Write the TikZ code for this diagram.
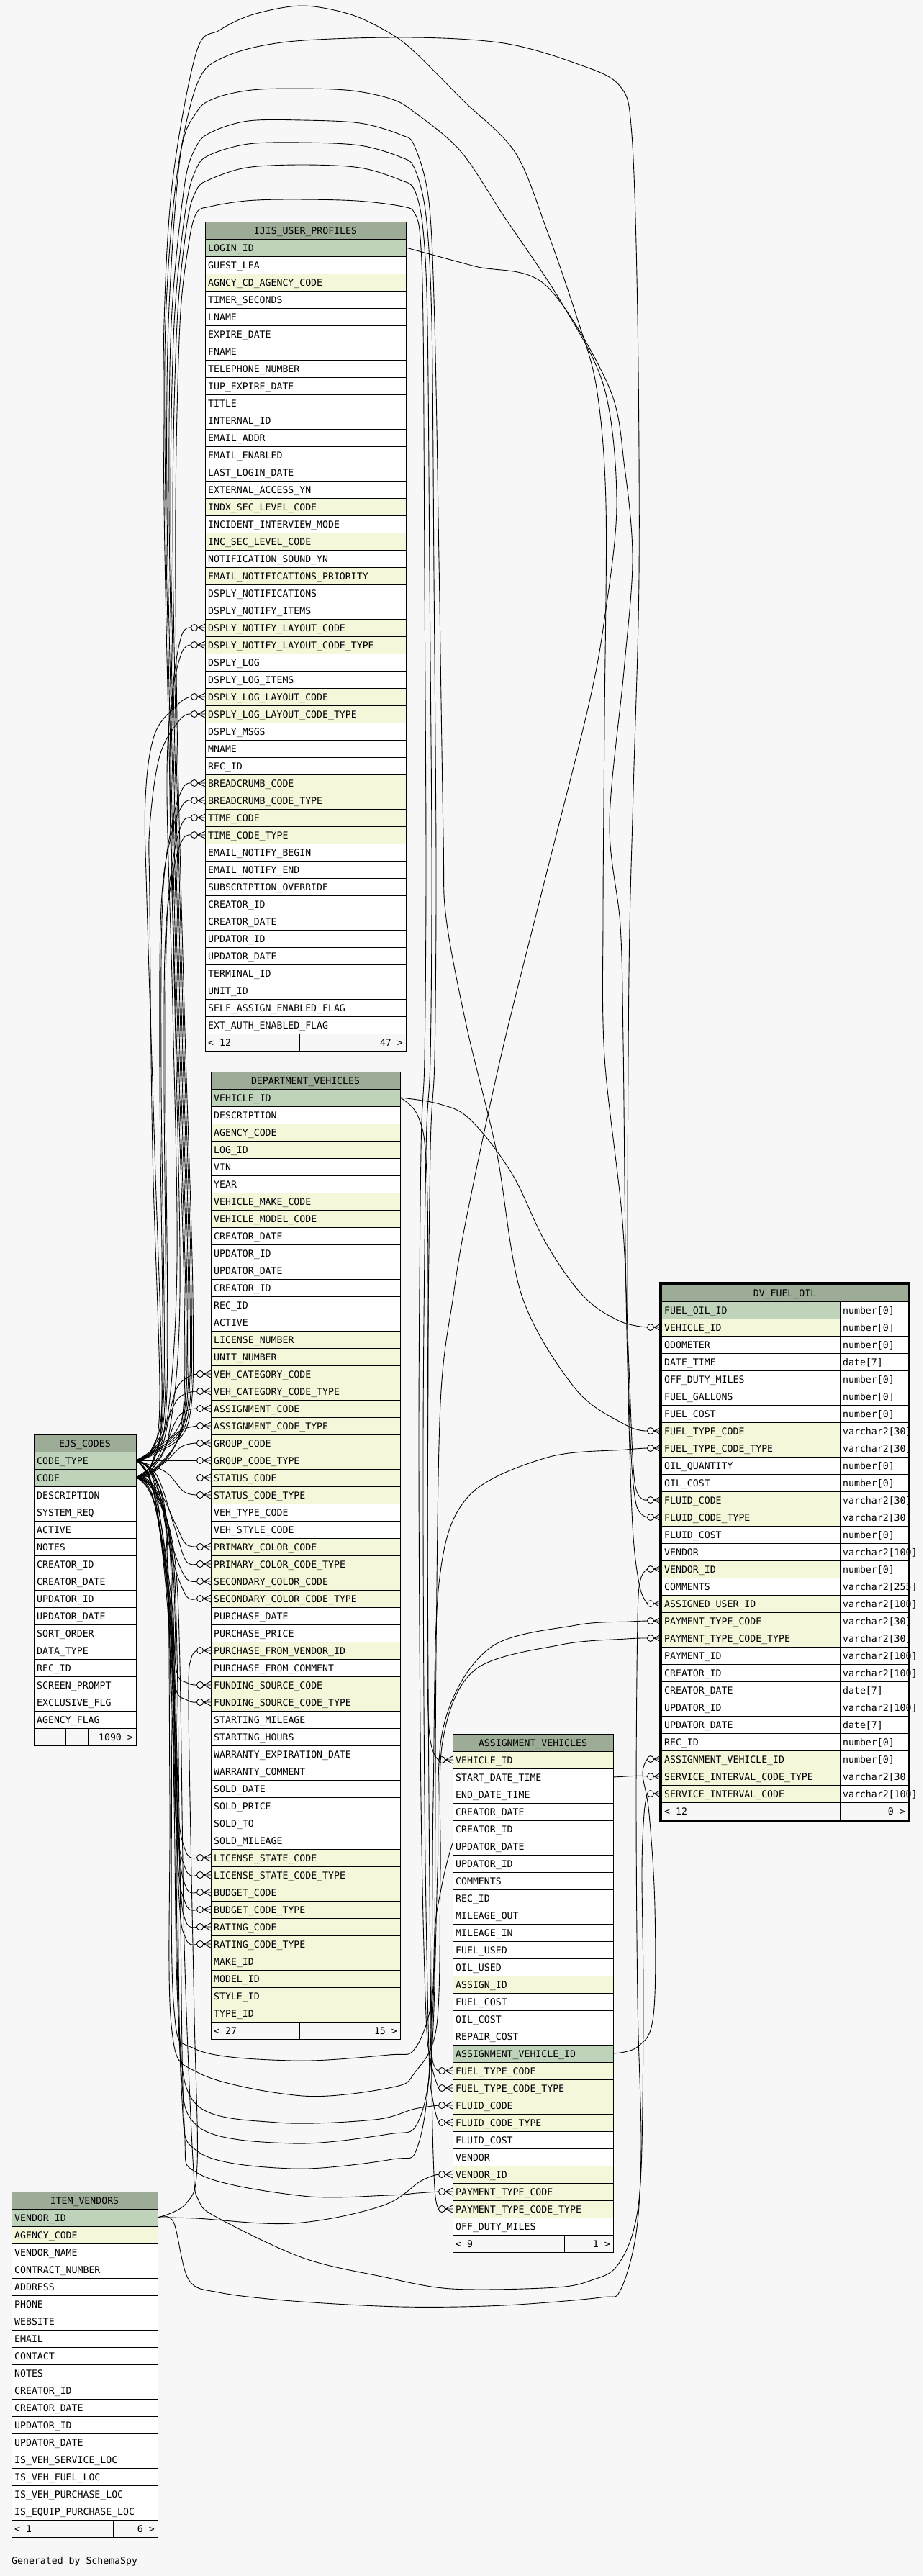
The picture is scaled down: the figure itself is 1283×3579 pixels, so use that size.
\documentclass[tikz,border=0pt]{standalone}
\usepackage{fontspec}
\setmonofont{DejaVu Sans Mono}
\pgfdeclarelayer{bg}
\pgfdeclarelayer{edges}
\pgfsetlayers{bg,edges,main}
\definecolor{bgc}{HTML}{F7F7F7}
\definecolor{cH}{HTML}{9CAC97}
\definecolor{cP}{HTML}{BFD3BB}
\definecolor{cF}{HTML}{F4F7DA}
\definecolor{cN}{HTML}{FFFFFF}
\tikzset{
  dbcell/.style={draw=black, line width=1pt, inner sep=0pt, outer sep=0pt, minimum height=24pt, anchor=north west},
  tx/.style={anchor=base west, inner sep=0pt, font=\ttfamily\fontsize{13.2pt}{15pt}\selectfont},
  txc/.style={tx, anchor=base},
  txr/.style={tx, anchor=base east},
  conn/.style={draw=black, line width=0.9pt},
  crowdot/.pic={
    \draw[line width=0.9pt] (-10,0) -- (0,-5) (-10,0) -- (0,0) (-10,0) -- (0,5);
    \draw[line width=0.9pt] (-15,0) circle[radius=4.5];
  }
}
% #1 prefix, #2 x0, #3 x1, #4 top, #5 title, #6 rows
\newcommand\dbtable[6]{%
  \node[dbcell, fill=cH, minimum width=#3-#2] (#1h) at (#2,#4) {};
  \node[txc] at ({(#2+#3)/2},#4+17) {#5};
  \foreach \t/\k [count=\i] in {#6} {
    \node[dbcell, fill=c\k, minimum width=#3-#2] (#1\i) at (#2,#4+24*\i) {};
    \node[tx] at (#2+4,#4+24*\i+17) {\t};
  }
}
% #1 prefix, #2 x0, #3 x1, #4 y, #5 d1, #6 d2, #7 left, #8 right
\newcommand\dbfoot[8]{%
  \node[dbcell, fill=bgc, minimum width=#5-#2] (#1fa) at (#2,#4) {};
  \node[dbcell, fill=bgc, minimum width=#6-#5] (#1fb) at (#5,#4) {};
  \node[dbcell, fill=bgc, minimum width=#3-#6] (#1fc) at (#6,#4) {};
  \node[tx] at (#2+4,#4+17) {#7};
  \node[txr] at (#3-4,#4+17) {#8};
}
\begin{document}
\begin{tikzpicture}[x=1pt,y=-1pt]
\useasboundingbox (0,0) rectangle (1283,3579);
\begin{pgfonlayer}{bg}
\fill[bgc] (0,0) rectangle (1283,3579);
\end{pgfonlayer}

% ---------------- IJIS_USER_PROFILES
\dbtable{ijis}{285}{564}{308}{IJIS\_USER\_PROFILES}{LOGIN\_ID/P, GUEST\_LEA/N, AGNCY\_CD\_AGENCY\_CODE/F, TIMER\_SECONDS/N, LNAME/N, EXPIRE\_DATE/N, FNAME/N, TELEPHONE\_NUMBER/N, IUP\_EXPIRE\_DATE/N, TITLE/N, INTERNAL\_ID/N, EMAIL\_ADDR/N, EMAIL\_ENABLED/N, LAST\_LOGIN\_DATE/N, EXTERNAL\_ACCESS\_YN/N, INDX\_SEC\_LEVEL\_CODE/F, INCIDENT\_INTERVIEW\_MODE/N, INC\_SEC\_LEVEL\_CODE/F, NOTIFICATION\_SOUND\_YN/N, EMAIL\_NOTIFICATIONS\_PRIORITY/F, DSPLY\_NOTIFICATIONS/N, DSPLY\_NOTIFY\_ITEMS/N, DSPLY\_NOTIFY\_LAYOUT\_CODE/F, DSPLY\_NOTIFY\_LAYOUT\_CODE\_TYPE/F, DSPLY\_LOG/N, DSPLY\_LOG\_ITEMS/N, DSPLY\_LOG\_LAYOUT\_CODE/F, DSPLY\_LOG\_LAYOUT\_CODE\_TYPE/F, DSPLY\_MSGS/N, MNAME/N, REC\_ID/N, BREADCRUMB\_CODE/F, BREADCRUMB\_CODE\_TYPE/F, TIME\_CODE/F, TIME\_CODE\_TYPE/F, EMAIL\_NOTIFY\_BEGIN/N, EMAIL\_NOTIFY\_END/N, SUBSCRIPTION\_OVERRIDE/N, CREATOR\_ID/N, CREATOR\_DATE/N, UPDATOR\_ID/N, UPDATOR\_DATE/N, TERMINAL\_ID/N, UNIT\_ID/N, SELF\_ASSIGN\_ENABLED\_FLAG/N, EXT\_AUTH\_ENABLED\_FLAG/N}
\dbfoot{ijis}{285}{564}{1436}{416}{479}{< 12}{47 >}

% ---------------- DEPARTMENT_VEHICLES
\dbtable{dv}{293}{556}{1489}{DEPARTMENT\_VEHICLES}{VEHICLE\_ID/P, DESCRIPTION/N, AGENCY\_CODE/F, LOG\_ID/F, VIN/N, YEAR/N, VEHICLE\_MAKE\_CODE/F, VEHICLE\_MODEL\_CODE/F, CREATOR\_DATE/N, UPDATOR\_ID/N, UPDATOR\_DATE/N, CREATOR\_ID/N, REC\_ID/N, ACTIVE/N, LICENSE\_NUMBER/F, UNIT\_NUMBER/F, VEH\_CATEGORY\_CODE/F, VEH\_CATEGORY\_CODE\_TYPE/F, ASSIGNMENT\_CODE/F, ASSIGNMENT\_CODE\_TYPE/F, GROUP\_CODE/F, GROUP\_CODE\_TYPE/F, STATUS\_CODE/F, STATUS\_CODE\_TYPE/F, VEH\_TYPE\_CODE/N, VEH\_STYLE\_CODE/N, PRIMARY\_COLOR\_CODE/F, PRIMARY\_COLOR\_CODE\_TYPE/F, SECONDARY\_COLOR\_CODE/F, SECONDARY\_COLOR\_CODE\_TYPE/F, PURCHASE\_DATE/N, PURCHASE\_PRICE/N, PURCHASE\_FROM\_VENDOR\_ID/F, PURCHASE\_FROM\_COMMENT/N, FUNDING\_SOURCE\_CODE/F, FUNDING\_SOURCE\_CODE\_TYPE/F, STARTING\_MILEAGE/N, STARTING\_HOURS/N, WARRANTY\_EXPIRATION\_DATE/N, WARRANTY\_COMMENT/N, SOLD\_DATE/N, SOLD\_PRICE/N, SOLD\_TO/N, SOLD\_MILEAGE/N, LICENSE\_STATE\_CODE/F, LICENSE\_STATE\_CODE\_TYPE/F, BUDGET\_CODE/F, BUDGET\_CODE\_TYPE/F, RATING\_CODE/F, RATING\_CODE\_TYPE/F, MAKE\_ID/F, MODEL\_ID/F, STYLE\_ID/F, TYPE\_ID/F}
\dbfoot{dv}{293}{556}{2809}{416}{476}{< 27}{15 >}

% ---------------- EJS_CODES
\dbtable{ejs}{47}{189}{1993}{EJS\_CODES}{CODE\_TYPE/P, CODE/P, DESCRIPTION/N, SYSTEM\_REQ/N, ACTIVE/N, NOTES/N, CREATOR\_ID/N, CREATOR\_DATE/N, UPDATOR\_ID/N, UPDATOR\_DATE/N, SORT\_ORDER/N, DATA\_TYPE/N, REC\_ID/N, SCREEN\_PROMPT/N, EXCLUSIVE\_FLG/N, AGENCY\_FLAG/N}
\dbfoot{ejs}{47}{189}{2401}{91}{122}{}{1090 >}

% ---------------- ASSIGNMENT_VEHICLES
\dbtable{av}{629}{852}{2409}{ASSIGNMENT\_VEHICLES}{VEHICLE\_ID/F, START\_DATE\_TIME/N, END\_DATE\_TIME/N, CREATOR\_DATE/N, CREATOR\_ID/N, UPDATOR\_DATE/N, UPDATOR\_ID/N, COMMENTS/N, REC\_ID/N, MILEAGE\_OUT/N, MILEAGE\_IN/N, FUEL\_USED/N, OIL\_USED/N, ASSIGN\_ID/F, FUEL\_COST/N, OIL\_COST/N, REPAIR\_COST/N, ASSIGNMENT\_VEHICLE\_ID/P, FUEL\_TYPE\_CODE/F, FUEL\_TYPE\_CODE\_TYPE/F, FLUID\_CODE/F, FLUID\_CODE\_TYPE/F, FLUID\_COST/N, VENDOR/N, VENDOR\_ID/F, PAYMENT\_TYPE\_CODE/F, PAYMENT\_TYPE\_CODE\_TYPE/F, OFF\_DUTY\_MILES/N}
\dbfoot{av}{629}{852}{3105}{732}{784}{< 9}{1 >}

% ---------------- ITEM_VENDORS
\dbtable{iv}{16}{219}{3045}{ITEM\_VENDORS}{VENDOR\_ID/P, AGENCY\_CODE/F, VENDOR\_NAME/N, CONTRACT\_NUMBER/N, ADDRESS/N, PHONE/N, WEBSITE/N, EMAIL/N, CONTACT/N, NOTES/N, CREATOR\_ID/N, CREATOR\_DATE/N, UPDATOR\_ID/N, UPDATOR\_DATE/N, IS\_VEH\_SERVICE\_LOC/N, IS\_VEH\_FUEL\_LOC/N, IS\_VEH\_PURCHASE\_LOC/N, IS\_EQUIP\_PURCHASE\_LOC/N}
\dbfoot{iv}{16}{219}{3501}{108}{157}{< 1}{6 >}

% ---------------- DV_FUEL_OIL
\node[dbcell, fill=cH, minimum width=343] (dfoh) at (919,1784) {};
\node[txc] at (1090.5,1801) {DV\_FUEL\_OIL};
\foreach \t/\k/\ty [count=\i] in {FUEL\_OIL\_ID/P/number[0], VEHICLE\_ID/F/number[0], ODOMETER/N/number[0], DATE\_TIME/N/date[7], OFF\_DUTY\_MILES/N/number[0], FUEL\_GALLONS/N/number[0], FUEL\_COST/N/number[0], FUEL\_TYPE\_CODE/F/varchar2[30], FUEL\_TYPE\_CODE\_TYPE/F/varchar2[30], OIL\_QUANTITY/N/number[0], OIL\_COST/N/number[0], FLUID\_CODE/F/varchar2[30], FLUID\_CODE\_TYPE/F/varchar2[30], FLUID\_COST/N/number[0], VENDOR/N/varchar2[100], VENDOR\_ID/F/number[0], COMMENTS/N/varchar2[255], ASSIGNED\_USER\_ID/F/varchar2[100], PAYMENT\_TYPE\_CODE/F/varchar2[30], PAYMENT\_TYPE\_CODE\_TYPE/F/varchar2[30], PAYMENT\_ID/N/varchar2[100], CREATOR\_ID/N/varchar2[100], CREATOR\_DATE/N/date[7], UPDATOR\_ID/N/varchar2[100], UPDATOR\_DATE/N/date[7], REC\_ID/N/number[0], ASSIGNMENT\_VEHICLE\_ID/F/number[0], SERVICE\_INTERVAL\_CODE\_TYPE/F/varchar2[30], SERVICE\_INTERVAL\_CODE/F/varchar2[100]} {
  \node[dbcell, fill=c\k, minimum width=248] (dfo\i) at (919,1784+24*\i) {};
  \node[dbcell, fill=white, minimum width=95] (dfot\i) at (1167,1784+24*\i) {};
  \node[tx] at (923,1801+24*\i) {\t};
  \node[tx] at (1171,1801+24*\i) {\ty};
}
\dbfoot{dfo}{919}{1262}{2504}{1053}{1167}{< 12}{0 >}
\draw[line width=3pt] (917.5,1782.5) rectangle (1263.5,2529.5);

\node[tx] (credit) at (16,3562) {Generated by SchemaSpy};

% ---------------- connector ends
\foreach \n in {ijis23,ijis24,ijis27,ijis28,ijis32,ijis33,ijis34,ijis35,dv17,dv18,dv19,dv20,dv21,dv22,dv23,dv24,dv27,dv28,dv29,dv30,dv33,dv35,dv36,dv45,dv46,dv47,dv48,dv49,dv50,dfo2,dfo8,dfo9,dfo12,dfo13,dfo16,dfo18,dfo19,dfo20,dfo27,dfo28,dfo29,av1,av19,av20,av21,av22,av25,av26,av27} {
  \coordinate (\n-e) at ([xshift=-19.5pt]\n.west);
}

\begin{pgfonlayer}{edges}
\foreach \n in {ijis23,ijis24,ijis27,ijis28,ijis32,ijis33,ijis34,ijis35,dv17,dv18,dv19,dv20,dv21,dv22,dv23,dv24,dv27,dv28,dv29,dv30,dv33,dv35,dv36,dv45,dv46,dv47,dv48,dv49,dv50,dfo2,dfo8,dfo9,dfo12,dfo13,dfo16,dfo18,dfo19,dfo20,dfo27,dfo28,dfo29,av1,av19,av20,av21,av22,av25,av26,av27} {
  \pic at (\n.west) {crowdot};
}
% EJS -> IJIS
\draw[conn] plot[smooth,tension=0.6] coordinates {(ejs2.east) (212,2040) (236,1985) (250,1800) (243,1400) (236,1100) (240,960) (252,884) (ijis23-e)};
\draw[conn] plot[smooth,tension=0.6] coordinates {(ejs1.east) (212,2018) (234,1960) (246,1750) (240,1400) (232,1100) (238,975) (252,908) (ijis24-e)};
\draw[conn] plot[smooth,tension=0.6] coordinates {(ejs2.east) (210,2035) (225,1950) (215,1600) (204,1250) (202,1110) (215,1020) (248,978) (ijis27-e)};
\draw[conn] plot[smooth,tension=0.6] coordinates {(ejs1.east) (210,2015) (222,1940) (212,1600) (208,1250) (208,1150) (222,1050) (250,1000) (ijis28-e)};
\draw[conn] plot[smooth,tension=0.6] coordinates {(ejs2.east) (212,2030) (228,1920) (224,1500) (226,1250) (240,1140) (254,1095) (ijis32-e)};
\draw[conn] plot[smooth,tension=0.6] coordinates {(ejs1.east) (212,2012) (226,1920) (222,1500) (224,1260) (238,1160) (254,1118) (ijis33-e)};
\draw[conn] plot[smooth,tension=0.6] coordinates {(ejs2.east) (214,2028) (232,1930) (230,1500) (232,1280) (242,1185) (254,1142) (ijis34-e)};
\draw[conn] plot[smooth,tension=0.6] coordinates {(ejs1.east) (214,2010) (230,1925) (228,1500) (230,1300) (242,1205) (254,1166) (ijis35-e)};

% EJS -> over the top
\draw[conn] plot[smooth,tension=0.55] coordinates {(ejs1.east) (214,2020) (262,1975) (268,1800) (256,1400) (246,1000) (244,700) (250,450) (262,340) (273,296) (292,287) (342,279) (405,277) (496,279) (560,287) (576,296) (584,330) (588,450) (590,800) (592,1200) (590,1470) (585,1600) (582,2000) (585,2500) (592,2800) (600,2870) (av20-e)};
\draw[conn] plot[smooth,tension=0.55] coordinates {(ejs1.east) (214,2018) (260,1972) (266,1800) (254,1400) (244,1000) (240,700) (246,450) (260,310) (273,264) (290,250) (342,233) (420,229) (500,233) (556,250) (576,264) (588,320) (594,450) (597,800) (600,1200) (598,1470) (592,1600) (588,2000) (590,2500) (596,2850) (602,2920) (av22-e)};
\draw[conn] plot[smooth,tension=0.55] coordinates {(ejs1.east) (214,2016) (258,1970) (264,1800) (252,1400) (242,1000) (237,700) (242,450) (258,290) (273,234) (292,215) (345,200) (420,198) (500,202) (556,218) (576,234) (592,300) (600,450) (603,800) (606,1200) (604,1470) (598,1600) (594,2000) (596,2500) (600,2900) (604,3040) (av27-e)};
\draw[conn] plot[smooth,tension=0.55] coordinates {(ejs2.east) (216,2040) (256,1975) (262,1800) (250,1400) (240,1000) (235,700) (238,450) (256,260) (273,203) (295,183) (345,168) (420,167) (500,171) (556,187) (576,203) (596,280) (604,450) (610,778) (616,1161) (620,1276) (649,1429) (690,1600) (725,1800) (800,1930) (870,1980) (dfo8-e)};
\draw[conn] plot[smooth,tension=0.55] coordinates {(ejs2.east) (216,2042) (254,1978) (260,1800) (248,1400) (238,1000) (232,700) (234,450) (250,220) (273,156) (300,136) (350,125) (419,123) (490,126) (545,138) (576,156) (640,210) (700,300) (780,420) (840,540) (857,700) (840,860) (817,984) (758,1219) (696,1468) (649,1688) (630,1800) (612,1950) (606,2300) (604,2700) (600,2850) (av19-e)};
\draw[conn] plot[smooth,tension=0.55] coordinates {(ejs1.east) (214,2014) (254,1966) (258,1800) (246,1400) (236,1000) (230,700) (230,450) (245,250) (273,119) (310,80) (400,58) (567,52) (700,60) (800,88) (861,119) (878,187) (886,440) (888,800) (880,1100) (874,1353) (872,1800) (876,2000) (884,2090) (dfo13-e)};
\draw[conn] plot[smooth,tension=0.55] coordinates {(ejs2.east) (216,2044) (252,1980) (256,1800) (244,1400) (234,1000) (228,700) (228,450) (240,250) (273,72) (305,42) (352,20) (420,8) (487,20) (540,45) (576,72) (644,140) (716,212) (760,320) (801,439) (829,539) (842,700) (840,1000) (838,1271) (840,1468) (865,1697) (874,1900) (882,2060) (dfo12-e)};

% EJS -> under the bottom
\draw[conn] plot[smooth,tension=0.55] coordinates {(ejs1.east) (212,2045) (230,2120) (238,2400) (241,2780) (272,2847) (407,2863) (540,2855) (576,2847) (600,2780) (608,2650) (650,2520) (760,2478) (870,2468) (dfo28-e)};
\draw[conn] plot[smooth,tension=0.55] coordinates {(ejs1.east) (212,2048) (232,2130) (236,2500) (238,2813) (276,2880) (421,2912) (545,2900) (576,2880) (607,2813) (612,2600) (615,2420) (660,2320) (780,2285) (870,2277) (dfo20-e)};
\draw[conn] plot[smooth,tension=0.55] coordinates {(ejs2.east) (214,2065) (236,2150) (242,2500) (248,2800) (272,2923) (386,2949) (520,2945) (576,2930) (av21-e)};
\draw[conn] plot[smooth,tension=0.55] coordinates {(ejs2.east) (214,2068) (238,2160) (244,2500) (250,2850) (276,2955) (407,2978) (540,2965) (580,2950) (600,2850) (608,2600) (616,2400) (680,2290) (800,2258) (875,2253) (dfo19-e)};
\draw[conn] plot[smooth,tension=0.55] coordinates {(ejs1.east) (212,2050) (240,2170) (246,2500) (252,2900) (276,2990) (407,3013) (545,3000) (580,2983) (598,2850) (602,2500) (610,2200) (650,2080) (760,2025) (870,2014) (dfo9-e)};
\draw[conn] plot[smooth,tension=0.55] coordinates {(ejs2.east) (214,2070) (242,2180) (250,2600) (256,2950) (276,3020) (421,3051) (540,3050) (580,3047) (av26-e)};
\draw[conn] plot[smooth,tension=0.55] coordinates {(ejs2.east) (215,2075) (246,2200) (256,2700) (268,3000) (276,3057) (304,3082) (421,3137) (531,3163) (628,3180) (773,3178) (825,3167) (856,3150) (880,3100) (891,3013) (894,2780) (892,2600) (895,2520) (dfo29-e)};

% EJS -> DEPARTMENT_VEHICLES
\draw[conn] plot[smooth,tension=0.6] coordinates {(ejs2.east) (222,2020) (245,1930) (dv17-e)};
\draw[conn] plot[smooth,tension=0.6] coordinates {(ejs1.east) (220,2005) (246,1945) (dv18-e)};
\draw[conn] plot[smooth,tension=0.6] coordinates {(ejs2.east) (222,2025) (248,1968) (dv19-e)};
\draw[conn] plot[smooth,tension=0.6] coordinates {(ejs1.east) (225,2010) (250,1988) (dv20-e)};
\draw[conn] plot[smooth,tension=0.6] coordinates {(ejs2.east) (225,2035) (252,2010) (dv21-e)};
\draw[conn] (ejs1.east) -- (dv22-e);
\draw[conn] (ejs2.east) -- (dv23-e);
\draw[conn] plot[smooth,tension=0.6] coordinates {(ejs1.east) (230,2045) (255,2072) (dv24-e)};
\draw[conn] plot[smooth,tension=0.6] coordinates {(ejs2.east) (220,2070) (245,2120) (258,2145) (dv27-e)};
\draw[conn] plot[smooth,tension=0.6] coordinates {(ejs1.east) (218,2050) (242,2120) (258,2168) (dv28-e)};
\draw[conn] plot[smooth,tension=0.6] coordinates {(ejs2.east) (218,2075) (240,2150) (258,2192) (dv29-e)};
\draw[conn] plot[smooth,tension=0.6] coordinates {(ejs1.east) (216,2055) (238,2160) (258,2216) (dv30-e)};
\draw[conn] plot[smooth,tension=0.6] coordinates {(ejs2.east) (216,2080) (238,2220) (245,2320) (260,2338) (dv35-e)};
\draw[conn] plot[smooth,tension=0.6] coordinates {(ejs1.east) (214,2060) (236,2220) (243,2340) (260,2362) (dv36-e)};
\draw[conn] plot[smooth,tension=0.6] coordinates {(ejs2.east) (214,2085) (236,2250) (246,2500) (258,2572) (dv45-e)};
\draw[conn] plot[smooth,tension=0.6] coordinates {(ejs1.east) (213,2070) (234,2250) (244,2520) (258,2597) (dv46-e)};
\draw[conn] plot[smooth,tension=0.6] coordinates {(ejs2.east) (215,2090) (238,2260) (248,2550) (258,2621) (dv47-e)};
\draw[conn] plot[smooth,tension=0.6] coordinates {(ejs1.east) (214,2075) (236,2260) (246,2570) (258,2645) (dv48-e)};
\draw[conn] plot[smooth,tension=0.6] coordinates {(ejs2.east) (216,2095) (240,2270) (250,2600) (258,2669) (dv49-e)};
\draw[conn] plot[smooth,tension=0.6] coordinates {(ejs1.east) (215,2080) (238,2270) (248,2620) (258,2693) (dv50-e)};

% ITEM_VENDORS.VENDOR_ID
\draw[conn] plot[smooth,tension=0.6] coordinates {(iv1.east) (259,3061) (274,3007) (270,2800) (264,2500) (262,2340) (266,2303) (dv33-e)};
\draw[conn] plot[smooth,tension=0.6] coordinates {(iv1.east) (272,3082) (407,3089) (530,3065) (585,3030) (av25-e)};
\draw[conn] plot[smooth,tension=0.55] coordinates {(iv1.east) (241,3087) (262,3167) (304,3185) (407,3197) (559,3205) (700,3203) (835,3192) (862,3182) (884,3103) (891,2980) (886,2780) (884,2500) (886,2250) (890,2195) (dfo16-e)};

% DEPARTMENT_VEHICLES.VEHICLE_ID
\draw[conn] plot[smooth,tension=0.6] coordinates {(dv1.east) (611,1534) (654,1556) (711,1630) (758,1726) (810,1800) (860,1835) (dfo2-e)};
\draw[conn] plot[smooth,tension=0.6] coordinates {(dv1.east) (580,1549) (592,1611) (595,1800) (594,2200) (596,2400) (av1-e)};

% ASSIGNMENT_VEHICLES.ASSIGNMENT_VEHICLE_ID
\draw[conn] plot[smooth,tension=0.6] coordinates {(av18.east) (887,2843) (908,2800) (910,2650) (902,2520) (893,2465) (dfo27-e)};

% IJIS_USER_PROFILES.LOGIN_ID
\draw[conn] plot[smooth,tension=0.55] coordinates {(ijis1.east) (660,370) (758,396) (846,537) (868,650) (879,778) (867,932) (847,1142) (862,1286) (866,1448) (870,1800) (878,2100) (888,2200) (dfo18-e)};
\end{pgfonlayer}
\end{tikzpicture}
\end{document}
